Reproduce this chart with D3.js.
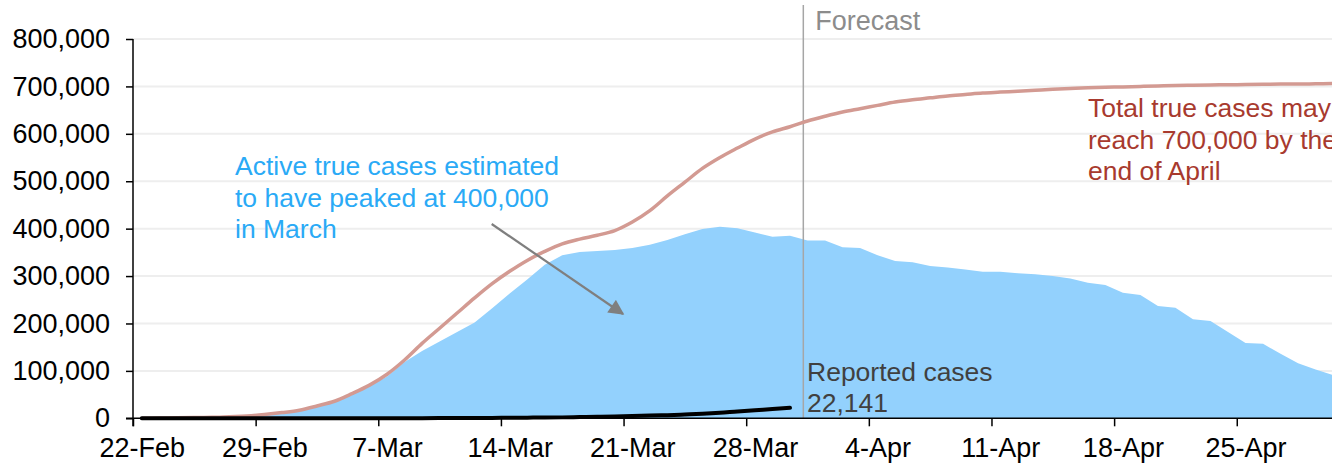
<!DOCTYPE html>
<html>
<head>
<meta charset="utf-8">
<script src="https://cdn.jsdelivr.net/npm/d3@7"></script>
<style>
  body { margin: 0; background: #fff; }
  svg { display: block; font-family: "Liberation Sans", Arial, sans-serif; }
</style>
</head>
<body>
<svg width="1332" height="466"></svg>
<script>
// one value per day, 22-Feb to 30-Apr
const startDay = new Date(Date.UTC(2020, 1, 22));
const days = d3.utcDay.range(startDay, new Date(Date.UTC(2020, 4, 1)));

const activeTrue = [
  0, 500, 1000, 1500, 2000, 3500, 5000, 8000, 12000, 17000,
  25000, 35000, 50000, 68000, 88000, 119000, 142000, 162000, 182000, 202000,
  232000, 263000, 293000, 324000, 344000, 351000, 353000, 355000, 359000, 366000,
  376000, 388000, 399000, 404000, 401000, 392000, 383000, 385000, 375000, 375000,
  361000, 359000, 344000, 332000, 329000, 321000, 318000, 314000, 309000, 309000,
  306000, 304000, 300000, 295000, 286000, 281000, 265000, 260000, 237000, 233000,
  209000, 205000, 182000, 159000, 157000, 136000, 116000, 103000, 91000
];

const totalTrue = [
  0, 500, 1000, 1500, 2000, 3500, 5000, 8000, 12000, 17000,
  26000, 36000, 52000, 70000, 93000, 123000, 158000, 190000, 222000, 254000,
  284000, 310000, 333000, 352000, 368000, 378000, 386000, 396000, 414000, 438000,
  469000, 498000, 527000, 550000, 570000, 589000, 604000, 615000, 627000, 637000,
  646000, 653000, 660000, 667000, 672000, 676000, 680000, 683000, 686000, 688000,
  690000, 692000, 694000, 695500, 697000, 698000, 699000, 700000, 701000, 702000,
  702500, 703000, 703500, 704000, 704500, 705000, 705000, 705500, 706000
];

// reported cases, 22-Feb to 30-Mar
const reported = [
  9, 13, 13, 13, 13, 15, 20, 23, 36, 40,
  51, 85, 115, 163, 206, 273, 321, 373, 456, 590,
  798, 1140, 1391, 1543, 1950, 2626, 3269, 3983, 5018, 5683,
  6650, 8077, 9529, 11658, 14543, 17089, 19522, 22141
];

const yTicks = [0, 100000, 200000, 300000, 400000, 500000, 600000, 700000, 800000];
const xTicks = d3.utcDay.range(startDay, new Date(Date.UTC(2020, 4, 1)), 7);
const forecastAt = 37.76; // day index where forecast begins

const svg = d3.select("svg");
const dayW = 17.52;
const x = d3.scaleUtc()
  .domain([days[0], days[days.length - 1]])
  .range([133 + dayW / 2, 133 + dayW / 2 + dayW * (days.length - 1)]);
const y = d3.scaleLinear().domain([0, 800000]).range([418.3, 39]);

// gridlines
svg.append("g")
  .selectAll("line")
  .data(yTicks.slice(1))
  .join("line")
  .attr("x1", 133).attr("x2", 1332)
  .attr("y1", d => y(d)).attr("y2", d => y(d))
  .attr("stroke", "#eeeeee").attr("stroke-width", 2);

// active true cases area
svg.append("path")
  .datum(activeTrue)
  .attr("fill", "#93d1fd")
  .attr("d", d3.area()
    .x((d, i) => x(days[i]))
    .y0(y(0))
    .y1(d => y(d)));

// forecast divider
const fx = x(days[0]) + forecastAt * dayW;
svg.append("line")
  .attr("x1", fx).attr("x2", fx)
  .attr("y1", 5).attr("y2", y(0))
  .attr("stroke", "#a6a6a6").attr("stroke-width", 1.5);
svg.append("text")
  .attr("x", fx + 12).attr("y", 30)
  .attr("fill", "#8c8c8c").attr("font-size", 27)
  .text("Forecast");

// total true cases (smoothed like the original)
svg.append("path")
  .datum(totalTrue)
  .attr("fill", "none")
  .attr("stroke", "#d39a92").attr("stroke-width", 3.5)
  .attr("d", d3.line()
    .x((d, i) => x(days[i]))
    .y(d => y(d))
    .curve(d3.curveCatmullRom.alpha(0.5)));

// reported cases
svg.append("path")
  .datum(reported)
  .attr("fill", "none")
  .attr("stroke", "#000").attr("stroke-width", 4)
  .attr("stroke-linecap", "round")
  .attr("d", d3.line()
    .x((d, i) => x(days[i]))
    .y(d => y(d))
    .curve(d3.curveCatmullRom.alpha(0.5)));

// axes
const yAxis = svg.append("g")
  .attr("transform", "translate(133,0)")
  .call(d3.axisLeft(y).tickValues(yTicks).tickSize(7).tickPadding(16)
    .tickFormat(d3.format(",")));
yAxis.select(".domain").attr("stroke", "#000").attr("stroke-width", 1.5)
  .attr("d", `M0,${y(800000)}V${y(0) + 8}`);
yAxis.selectAll(".tick line").attr("stroke", "#000").attr("stroke-width", 1.5);
yAxis.selectAll("text").attr("font-size", 27).attr("fill", "#000")
  .attr("font-family", "Liberation Sans, Arial, sans-serif");

const xAxis = svg.append("g")
  .attr("transform", `translate(0,${y(0)})`)
  .call(d3.axisBottom(x).tickValues(xTicks).tickSize(8).tickPadding(12)
    .tickFormat(d3.utcFormat("%-d-%b")));
xAxis.select(".domain").attr("stroke", "#000").attr("stroke-width", 1.5)
  .attr("d", "M126,0H1332");
xAxis.selectAll(".tick line").attr("stroke", "#000").attr("stroke-width", 1.5)
  .attr("x1", -dayW / 2).attr("x2", -dayW / 2);
xAxis.selectAll("text").attr("font-size", 27).attr("fill", "#000")
  .attr("font-family", "Liberation Sans, Arial, sans-serif");

// annotations
function block(lines, x0, y0, color) {
  const t = svg.append("text").attr("font-size", 26.5).attr("fill", color);
  lines.forEach((s, i) => t.append("tspan").attr("x", x0).attr("y", y0 + i * 31.7).text(s));
}
block(["Active true cases estimated", "to have peaked at 400,000", "in March"], 235, 175, "#2aaaf6");
block(["Total true cases may", "reach 700,000 by the", "end of April"], 1088, 117, "#a83a2e");
block(["Reported cases", "22,141"], 807, 380.5, "#404040");

// arrow
svg.append("defs").append("marker")
  .attr("id", "head").attr("viewBox", "0 0 10 10")
  .attr("refX", 9).attr("refY", 5)
  .attr("markerWidth", 8).attr("markerHeight", 7)
  .attr("markerUnits", "strokeWidth")
  .attr("orient", "auto")
  .append("path").attr("d", "M0,0L10,5L0,10Z").attr("fill", "#7f7f7f");
svg.append("line")
  .attr("x1", 491.7).attr("y1", 224)
  .attr("x2", 623).attr("y2", 314)
  .attr("stroke", "#7f7f7f").attr("stroke-width", 2.2)
  .attr("marker-end", "url(#head)");
</script>
</body>
</html>
